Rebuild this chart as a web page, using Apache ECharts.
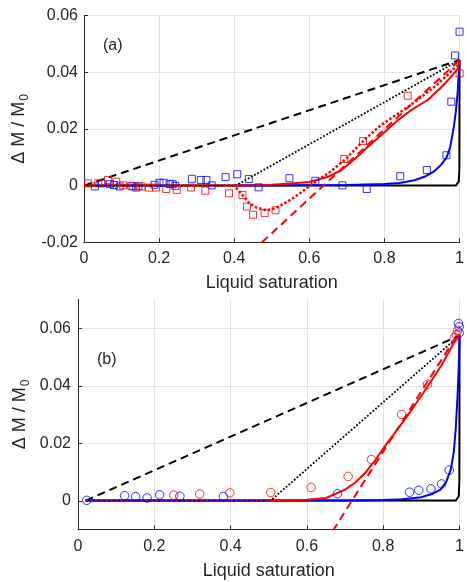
<!DOCTYPE html>
<html><head><meta charset="utf-8">
<script src="https://cdn.jsdelivr.net/npm/echarts@6/dist/echarts.min.js"></script>
<style>html,body{margin:0;padding:0;background:#fff}#c{width:467px;height:582px}</style>
</head><body><div id="c"></div>
<script>
// ---------- Panel (a) data ----------
const aBlueSquares = [[0.029,-0.0003],[0.047,0.0008],[0.069,0.0005],[0.08,0.0002],[0.095,-0.0003],[0.126,-0.0001],[0.139,-0.0007],[0.145,-0.0002],[0.188,0.0003],[0.201,0.001],[0.212,0.001],[0.228,0.0006],[0.236,0.0005],[0.243,-0.0001],[0.287,0.0024],[0.311,0.002],[0.326,0.002],[0.34,0.0001],[0.377,0.003],[0.408,0.004],[0.439,0.0023],[0.465,-0.0006],[0.547,0.0026],[0.616,0.0017],[0.688,0.0001],[0.753,-0.0012],[0.842,0.0033],[0.913,0.0055],[0.965,0.0107],[0.978,0.0296],[0.988,0.0459],[1.0,0.0543]];
const aRedSquares = [[0.011,0.0008],[0.038,0.0008],[0.064,0.002],[0.086,0.0014],[0.104,0.0001],[0.13,-0.0003],[0.153,-0.0003],[0.173,-0.0007],[0.192,-0.0007],[0.219,-0.0012],[0.247,-0.0015],[0.285,-0.0007],[0.323,-0.0018],[0.386,-0.0027],[0.422,-0.0033],[0.434,-0.0074],[0.45,-0.0103],[0.481,-0.0097],[0.51,-0.0087],[0.693,0.0094],[0.743,0.0157],[0.862,0.0317],[1.0,0.0396]];
const aBlackDashed = [[0,0],[1,0.0443]];
const aBlackDotted = [[0,0],[0.404,0],[1,0.0443]];
const aBlackSolid = [[0,0],[0.99,0],[0.995,0.0004],[0.998,0.0015],[0.9995,0.006],[1,0.0443]];
const aBlueSolid = [[0.4,0],[0.5,0],[0.6,0.0001],[0.7,0.0002],[0.75,0.0004],[0.8,0.0006],[0.84,0.0009],[0.88,0.0019],[0.91,0.0033],[0.93,0.0048],[0.95,0.0072],[0.965,0.0098],[0.975,0.0135],[0.985,0.021],[0.99,0.026],[0.995,0.033],[1,0.0443]];
const aRedSolid = [[0.4,0],[0.45,0.0001],[0.5,0.0003],[0.55,0.0007],[0.6,0.0013],[0.65,0.0031],[0.686,0.0055],[0.72,0.0093],[0.757,0.0138],[0.8,0.0188],[0.836,0.0231],[0.87,0.0265],[0.915,0.0302],[0.95,0.0345],[0.975,0.038],[0.995,0.0412],[1,0.0443]];
const aRedDotted = [[0,0],[0.4,0],[0.42,-0.003],[0.44,-0.0062],[0.46,-0.0078],[0.483,-0.0086],[0.5,-0.0085],[0.519,-0.0074],[0.54,-0.0058],[0.563,-0.0039],[0.58,-0.0022],[0.602,0],[0.625,0.0022],[0.651,0.0044],[0.695,0.0091],[0.739,0.0152],[0.783,0.0205],[0.81,0.0231],[0.871,0.0285],[0.937,0.0352],[0.995,0.0425],[1,0.0443]];
const aRedDashed = [[0.474,-0.02],[1,0.0443]];

// ---------- Panel (b) data ----------
const bBlueCircles = [[0.023,0.0001],[0.122,0.0017],[0.151,0.0014],[0.181,0.0009],[0.214,0.002],[0.267,0.0015],[0.381,0.0014],[0.68,0.0024],[0.869,0.0029],[0.893,0.0036],[0.925,0.0041],[0.953,0.0058],[0.973,0.0106],[0.997,0.0617],[0.999,0.0605],[0.999,0.0584]];
const bRedCircles = [[0.251,0.0019],[0.319,0.0023],[0.398,0.0027],[0.505,0.0028],[0.611,0.0046],[0.708,0.0084],[0.769,0.0143],[0.848,0.030],[0.916,0.0405],[0.986,0.0567],[0.992,0.0578],[0.995,0.0593]];
const bBlackDashed = [[0.02,0],[1,0.0575]];
const bBlackDotted = [[0.02,0],[0.505,0],[1,0.0575]];
const bBlackSolid = [[0.02,0],[0.99,0],[0.995,0.0004],[0.998,0.0015],[0.9995,0.007],[1,0.0575]];
const bBlueSolid = [[0.02,0],[0.7,0],[0.8,0.0002],[0.85,0.0005],[0.9,0.0012],[0.93,0.0024],[0.95,0.0038],[0.965,0.0065],[0.977,0.0108],[0.985,0.017],[0.99,0.025],[0.995,0.037],[0.998,0.047],[1,0.0575]];
const bRedSolid = [[0.5,0],[0.55,0.0001],[0.6,0.0003],[0.65,0.0009],[0.7,0.0038],[0.726,0.0062],[0.752,0.0095],[0.78,0.0143],[0.804,0.0189],[0.83,0.0235],[0.856,0.0282],[0.88,0.0327],[0.908,0.0381],[0.93,0.0425],[0.951,0.0468],[0.97,0.0512],[0.982,0.0543],[0.992,0.0565],[1,0.0578]];
const bRedDotted = [[0.02,0],[0.5,0]];
const bRedDashed = [[0.668,-0.0105],[0.993,0.0575]];

const xTickValues = [0, 0.2, 0.4, 0.6, 0.8, 1];
const aYTicks = [-0.02, 0, 0.02, 0.04, 0.06];
const bYTicks = [0, 0.02, 0.04, 0.06];

const AX = '#262626', GRID = '#e3e3e3';
const FONT = 'Liberation Sans, Arial, sans-serif';
const fmtX = v => Math.abs(v) < 1e-9 ? '0' : (Math.abs(v-1) < 1e-9 ? '1' : v.toFixed(1));
const fmtY = v => Math.abs(v) < 1e-9 ? '0' : v.toFixed(2);

const yName = '{n|\u0394 M / M}{s|0}';
const yNameStyle = {fontFamily: FONT, color: AX, rich: {
  n: {fontSize: 18, fontFamily: FONT, color: AX, lineHeight: 24, verticalAlign: 'middle'},
  s: {fontSize: 12, fontFamily: FONT, color: AX, lineHeight: 24, verticalAlign: 'bottom', padding: [0,0,0,1]}
}};

function xAxisDef(gi, show) {
  return {type: 'value', gridIndex: gi, min: 0, max: 1, interval: 0.2, show: show !== false,
    name: 'Liquid saturation', nameLocation: 'middle', nameGap: 32,
    nameTextStyle: {fontSize: 18, fontFamily: FONT, color: AX},
    axisLine: {show: true, onZero: false, lineStyle: {color: AX, width: 1}},
    axisTick: {show: true, inside: true, length: 4, lineStyle: {color: AX}},
    axisLabel: {fontSize: 16, fontFamily: FONT, color: AX, margin: 8, formatter: fmtX},
    splitLine: {show: true, lineStyle: {color: GRID, width: 1}}};
}

const lineS = (xi, yi, data, color, width, type, z) => ({type: 'line', xAxisIndex: xi, yAxisIndex: yi, data, symbol: 'none', showSymbol: false,
  lineStyle: {color, width, type}, z: z || 2, animation: false, silent: true, clip: true});
const scatS = (xi, yi, data, color, symbol, size) => ({type: 'scatter', xAxisIndex: xi, yAxisIndex: yi, data, symbol, symbolSize: size,
  itemStyle: {color: 'rgba(0,0,0,0)', borderColor: color, borderWidth: 1}, z: 5, animation: false, clip: false});

const chart = echarts.init(document.getElementById('c'), null, {renderer: 'canvas'});
chart.setOption({
  backgroundColor: '#fff',
  animation: false,
  grid: [
    {left: 84, right: 5, top: 15.5, height: 226.8},
    {left: 78, right: 5, top: 299.6, height: 229.7},
    {left: 78, right: 5, top: 328.3, height: 172.7}
  ],
  xAxis: [
    xAxisDef(0),
    Object.assign(xAxisDef(1), {nameGap: 33, axisLabel: {fontSize: 16, fontFamily: FONT, color: AX, margin: 9, formatter: fmtX}}),
    {type: 'value', gridIndex: 2, min: 0, max: 1, show: false}
  ],
  yAxis: [
    {type: 'value', gridIndex: 0, min: -0.02, max: 0.06, interval: 0.02,
      name: yName, nameLocation: 'middle', nameGap: 50, nameRotate: 90, nameTextStyle: yNameStyle,
      axisLine: {show: true, onZero: false, lineStyle: {color: AX}},
      axisTick: {show: true, inside: true, length: 4, lineStyle: {color: AX}},
      axisLabel: {fontSize: 16, fontFamily: FONT, color: AX, margin: 6, formatter: fmtY},
      splitLine: {show: true, lineStyle: {color: GRID}}},
    {type: 'value', gridIndex: 1, min: -0.01, max: 0.07,
      name: yName, nameLocation: 'middle', nameGap: 46, nameRotate: 90, nameTextStyle: yNameStyle,
      axisLine: {show: true, onZero: false, lineStyle: {color: AX}},
      axisTick: {show: false}, axisLabel: {show: false}, splitLine: {show: false}},
    {type: 'value', gridIndex: 2, min: 0, max: 0.06, interval: 0.02,
      axisLine: {show: false},
      axisTick: {show: true, inside: true, length: 4, lineStyle: {color: AX}},
      axisLabel: {fontSize: 16, fontFamily: FONT, color: AX, margin: 7, formatter: fmtY},
      splitLine: {show: true, lineStyle: {color: GRID}}}
  ],
  graphic: [
    {type: 'text', left: 103, top: 38, style: {text: '(a)', fontSize: 16, fontFamily: FONT, fill: AX}},
    {type: 'text', left: 97, top: 352, style: {text: '(b)', fontSize: 16, fontFamily: FONT, fill: AX}}
  ],
  series: [
    lineS(0,0,aBlackDashed,'#000',2,[8,5]),
    lineS(0,0,aBlackDotted,'#000',1.8,[1.8,1.8]),
    lineS(0,0,aBlackSolid,'#000',2,'solid'),
    lineS(0,0,aBlueSolid,'#0000ff',2,'solid'),
    lineS(0,0,aRedSolid,'#ff0000',2,'solid'),
    lineS(0,0,aRedDotted,'#ff0000',2.5,[2.5,2]),
    lineS(0,0,aRedDashed,'#ff0000',2,[8,5]),
    scatS(0,0,aBlueSquares,'#0000ff','rect',7),
    scatS(0,0,aRedSquares,'#ff0000','rect',7),

    lineS(1,1,bBlackDashed,'#000',2,[8,5]),
    lineS(1,1,bBlackDotted,'#000',1.8,[1.8,1.8]),
    lineS(1,1,bBlackSolid,'#000',2,'solid'),
    lineS(1,1,bBlueSolid,'#0000ff',2,'solid'),
    lineS(1,1,bRedDotted,'#ff0000',2,[2,3]),
    lineS(1,1,bRedSolid,'#ff0000',2,'solid'),
    lineS(1,1,bRedDashed,'#ff0000',2,[8,5]),
    scatS(1,1,bBlueCircles,'#0000ff','circle',8.5),
    scatS(1,1,bRedCircles,'#ff0000','circle',8.5)
  ]
});
</script></body></html>
